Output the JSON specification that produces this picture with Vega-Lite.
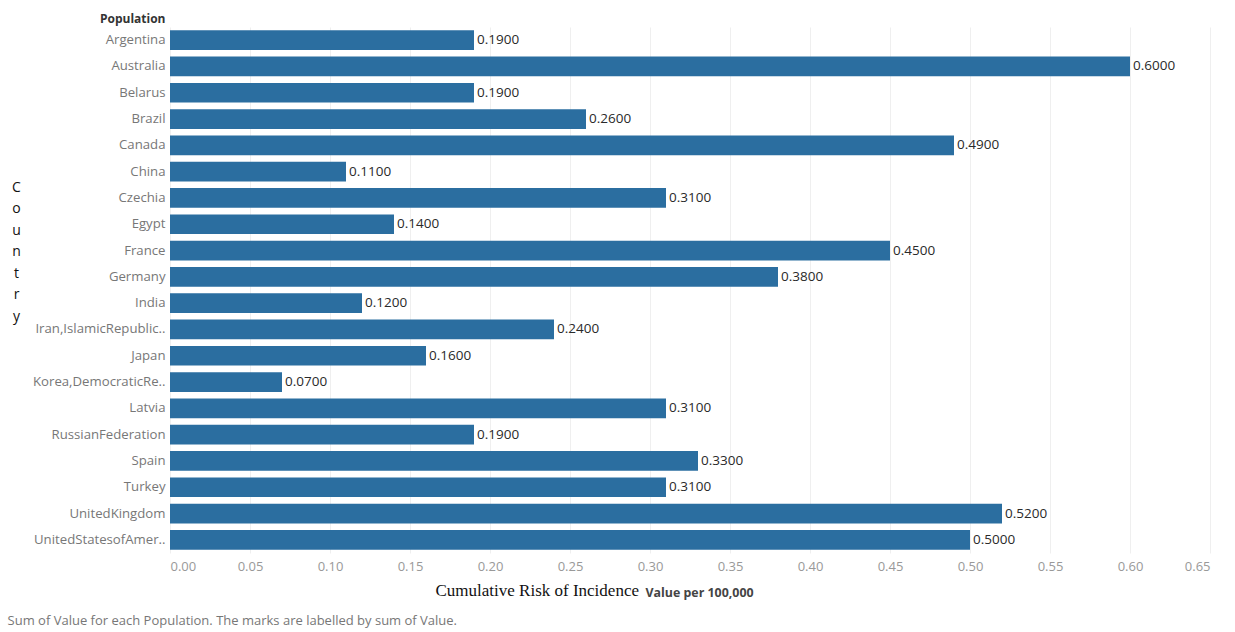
{
  "$schema": "https://vega.github.io/schema/vega-lite/v6.json",
  "width": 1040,
  "height": 526,
  "autosize": {"type": "none"},
  "padding": {"left": 170, "top": 27, "right": 25, "bottom": 79},
  "background": "white",
  "config": {"view": {"stroke": null}, "font": "Open Sans"},
  "title": {
    "text": "Sum of Value for each Population.  The marks are labelled by sum of Value.",
    "orient": "bottom",
    "anchor": "start",
    "frame": "bounds",
    "fontSize": 13,
    "fontWeight": "normal",
    "color": "#777777",
    "font": "Open Sans",
    "offset": 17,
    "dx": -4
  },
  "data": {
    "values": [
      {"Population": "Argentina", "Value": 0.19},
      {"Population": "Australia", "Value": 0.60},
      {"Population": "Belarus", "Value": 0.19},
      {"Population": "Brazil", "Value": 0.26},
      {"Population": "Canada", "Value": 0.49},
      {"Population": "China", "Value": 0.11},
      {"Population": "Czechia", "Value": 0.31},
      {"Population": "Egypt", "Value": 0.14},
      {"Population": "France", "Value": 0.45},
      {"Population": "Germany", "Value": 0.38},
      {"Population": "India", "Value": 0.12},
      {"Population": "Iran,IslamicRepublic..", "Value": 0.24},
      {"Population": "Japan", "Value": 0.16},
      {"Population": "Korea,DemocraticRe..", "Value": 0.07},
      {"Population": "Latvia", "Value": 0.31},
      {"Population": "RussianFederation", "Value": 0.19},
      {"Population": "Spain", "Value": 0.33},
      {"Population": "Turkey", "Value": 0.31},
      {"Population": "UnitedKingdom", "Value": 0.52},
      {"Population": "UnitedStatesofAmer..", "Value": 0.50}
    ]
  },
  "layer": [
    {
      "mark": {"type": "bar", "color": "#2b6ea0"},
      "encoding": {
        "y": {
          "field": "Population",
          "type": "nominal",
          "sort": null,
          "scale": {"paddingInner": 0.25, "paddingOuter": 0.125},
          "axis": {
            "orient": "left",
            "ticks": false,
            "domain": false,
            "grid": false,
            "labelPadding": 5,
            "labelFontSize": 13.2,
            "labelColor": "#777777",
            "labelFont": "Open Sans",
            "labelLimit": 200,
            "title": "Population",
            "titleAngle": 0,
            "titleAlign": "right",
            "titleBaseline": "middle",
            "titleX": -5,
            "titleY": -9,
            "titleFontSize": 12,
            "titleFontWeight": "bold",
            "titleColor": "#333333",
            "titleFont": "Open Sans"
          }
        },
        "x": {
          "field": "Value",
          "type": "quantitative",
          "scale": {"domain": [0, 0.65], "nice": false},
          "axis": {
            "orient": "bottom",
            "values": [0, 0.05, 0.1, 0.15, 0.2, 0.25, 0.3, 0.35, 0.4, 0.45, 0.5, 0.55, 0.6, 0.65],
            "format": ".2f",
            "ticks": false,
            "domain": false,
            "grid": true,
            "gridColor": "#efefef",
            "labelPadding": 7,
            "labelFontSize": 13,
            "labelColor": "#999999",
            "labelFont": "Open Sans",
            "title": "Cumulative Risk of Incidence",
            "titleFont": "Liberation Serif",
            "titleFontSize": 17,
            "titleFontWeight": "normal",
            "titleColor": "#111111",
            "titleAlign": "left",
            "titleBaseline": "middle",
            "titleX": 265,
            "titleY": 37
          }
        }
      }
    },
    {
      "mark": {"type": "text", "align": "left", "baseline": "middle", "dx": 3, "fontSize": 13.5, "color": "#2a2a2a", "font": "Open Sans"},
      "encoding": {
        "y": {
          "field": "Population",
          "type": "nominal",
          "sort": null,
          "axis": {
            "orient": "left",
            "labels": false,
            "ticks": false,
            "domain": false,
            "grid": false,
            "title": ["C", "o", "u", "n", "t", "r", "y"],
            "titleAngle": 0,
            "titleAlign": "center",
            "titleBaseline": "top",
            "titleLineHeight": 21.5,
            "titleX": -154,
            "titleY": 153,
            "titleFont": "Open Sans",
            "titleFontSize": 14,
            "titleFontWeight": "normal",
            "titleColor": "#111111"
          }
        },
        "x": {
          "field": "Value",
          "type": "quantitative",
          "axis": {
            "orient": "bottom",
            "labels": false,
            "ticks": false,
            "domain": false,
            "grid": false,
            "title": "Value per 100,000",
            "titleFont": "Open Sans",
            "titleFontSize": 12.4,
            "titleFontWeight": "bold",
            "titleColor": "#444444",
            "titleAlign": "left",
            "titleBaseline": "middle",
            "titleX": 475,
            "titleY": 39
          }
        },
        "text": {"field": "Value", "type": "quantitative", "format": ".4f"}
      }
    }
  ],
  "resolve": {"axis": {"x": "independent", "y": "independent"}}
}
